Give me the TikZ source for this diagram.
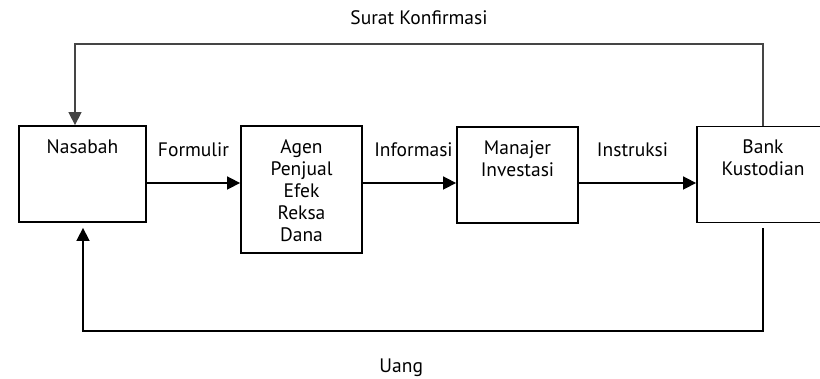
\documentclass[tikz,border=0pt]{standalone}
\usepackage{fontspec}
\setmainfont{PT Sans}
\usetikzlibrary{arrows.meta}
\definecolor{abugelap}{HTML}{454545}
\tikzset{
  kotak/.style={draw, line width=1.8pt, minimum height=96pt},
  teks/.style={font=\fontsize{19.5}{22}\selectfont, align=center, inner sep=0pt},
  isi/.style={teks, anchor=north, yshift=-14pt},
  panah/.style={line width=1.6pt, -{Triangle[length=13pt,width=13pt]}}
}
\begin{document}
\begin{tikzpicture}[x=1pt,y=-1pt]
    \useasboundingbox (0,0) rectangle (820,379);
    \clip (0,0) rectangle (820,379);
    \node[kotak, minimum width=127pt, label={[isi]north:Nasabah}] (nasabah) at (82.5,174) {};
    \node[kotak, minimum width=121pt, minimum height=127pt,
          label={[isi]north:{Agen\\Penjual\\Efek\\Reksa\\Dana}}] (agen) at (301.5,189.5) {};
    \node[kotak, minimum width=121pt, label={[isi]north:{Manajer\\Investasi}}] (manajer) at (517.5,175) {};
    \node[kotak, minimum width=132pt, label={[isi]north:{Bank\\Kustodian}}] (bank) at (763,174.5) {};
    \coordinate (jalur) at (0,183);
    \coordinate (atas) at (75,44);
    \coordinate (bawah) at (83,331);
    \draw[panah] (nasabah.east |- jalur) -- (agen.west |- jalur)
        node[teks, midway, yshift=33pt] (formulir) {Formulir};
    \draw[panah] (agen.east |- jalur) -- (manajer.west |- jalur)
        node[teks, midway, yshift=33pt, xshift=4pt] (informasi) {Informasi};
    \draw[panah] (manajer.east |- jalur) -- (bank.west |- jalur)
        node[teks, midway, yshift=33pt, xshift=-5pt] (instruksi) {Instruksi};
    % surat konfirmasi kembali ke nasabah
    \draw[panah, color=abugelap, line width=1.4pt] (bank.north) |- (atas)
        node[teks, color=black, pos=0.75, yshift=26pt] (surat) {Surat Konfirmasi}
        -- (atas |- nasabah.north);
    % uang dari bank kustodian
    \draw[panah, shorten <=5pt, shorten >=5pt] (bank.south) |- (bawah)
        node[teks, pos=0.766, yshift=-37pt] (uang) {Uang}
        -- (bawah |- nasabah.south);
\end{tikzpicture}
\end{document}
